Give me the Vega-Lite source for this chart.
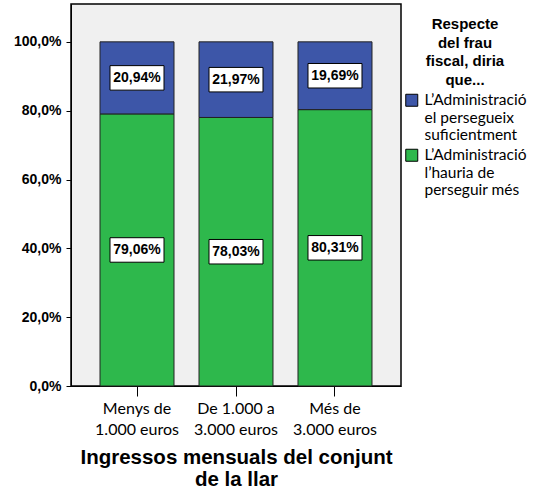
{
  "$schema": "https://vega.github.io/schema/vega-lite/v6.json",
  "width": 330,
  "height": 382,
  "padding": {"left": 13, "top": 4, "right": 0, "bottom": 0},
  "config": {
    "locale": {"number": {"decimal": ",", "thousands": ".", "grouping": [3], "currency": ["", "€"]}},
    "view": {"fill": "#F0F0F0", "stroke": "#000000", "strokeWidth": 1.5},
    "font": "Liberation Sans",
    "style": {"guide-label": {"lineHeight": 17.5}}
  },
  "data": {
    "values": [
      {"cat": "Menys de 1.000 euros", "resp": "L’Administració l’hauria de perseguir més", "ord": 1, "pct": 0.7906},
      {"cat": "Menys de 1.000 euros", "resp": "L’Administració el persegueix suficientment", "ord": 2, "pct": 0.2094},
      {"cat": "De 1.000 a 3.000 euros", "resp": "L’Administració l’hauria de perseguir més", "ord": 1, "pct": 0.7803},
      {"cat": "De 1.000 a 3.000 euros", "resp": "L’Administració el persegueix suficientment", "ord": 2, "pct": 0.2197},
      {"cat": "Més de 3.000 euros", "resp": "L’Administració l’hauria de perseguir més", "ord": 1, "pct": 0.8031},
      {"cat": "Més de 3.000 euros", "resp": "L’Administració el persegueix suficientment", "ord": 2, "pct": 0.1969}
    ]
  },
  "encoding": {
    "x": {
      "field": "cat",
      "type": "nominal",
      "sort": ["Menys de 1.000 euros", "De 1.000 a 3.000 euros", "Més de 3.000 euros"],
      "scale": {"paddingInner": 0.2525, "paddingOuter": 0.293},
      "axis": {
        "title": ["Ingressos mensuals del conjunt", "de la llar"],
        "titleFontSize": 20.5,
        "titleFontWeight": "bold",
        "titleLineHeight": 22,
        "titlePadding": 10,
        "titleColor": "#000000",
        "labelAngle": 0,
        "labelExpr": "indexof(datum.label, 'Menys') >= 0 ? ['Menys de', '1.000 euros'] : indexof(datum.label, 'De 1') >= 0 ? ['De 1.000 a', '3.000 euros'] : ['Més de', '3.000 euros']",
        "labelFont": "Lato",
        "labelFontSize": 16,
        "labelLineHeight": 21,
        "labelPadding": 4,
        "labelColor": "#000000",
        "tickSize": 10,
        "tickColor": "#000000",
        "domainColor": "#000000"
      }
    },
    "y": {
      "field": "pct",
      "type": "quantitative",
      "stack": "zero",
      "scale": {"domain": [0, 1.11], "nice": false},
      "axis": {
        "values": [0, 0.2, 0.4, 0.6, 0.8, 1],
        "format": ".1%",
        "title": null,
        "grid": false,
        "domainColor": "#000000",
        "tickColor": "#000000",
        "tickSize": 5,
        "labelPadding": 5,
        "labelFontSize": 14,
        "labelFontWeight": "bold",
        "labelColor": "#000000"
      }
    },
    "order": {"field": "ord"},
    "detail": {"field": "resp"}
  },
  "layer": [
    {
      "mark": {"type": "bar", "stroke": "#222222", "strokeWidth": 1},
      "encoding": {
        "color": {
          "field": "resp",
          "type": "nominal",
          "scale": {
            "domain": ["L’Administració el persegueix suficientment", "L’Administració l’hauria de perseguir més"],
            "range": ["#3D56A8", "#2EB84C"]
          },
          "legend": {
            "title": ["Respecte", "del frau", "fiscal, diria", "que..."],
            "titleFontSize": 15,
            "titleFontWeight": "bold",
            "titleLineHeight": 18.5,
            "titleAnchor": "middle",
            "titleAlign": "center",
            "titleColor": "#000000",
            "titlePadding": 5,
            "labelExpr": "indexof(datum.label, 'suficient') >= 0 ? ['L’Administració', 'el persegueix', 'suficientment'] : ['L’Administració', 'l’hauria de', 'perseguir més']",
            "labelFont": "Lato",
            "labelFontSize": 15.5,
            "labelColor": "#000000",
            "labelOffset": 5,
            "symbolType": "square",
            "symbolSize": 144,
            "symbolStrokeColor": "#000000",
            "symbolStrokeWidth": 1,
            "symbolOpacity": 1,
            "rowPadding": 2,
            "padding": 13,
            "offset": -10
          }
        }
      }
    },
    {
      "mark": {"type": "point", "shape": "M-1,-0.4537H1V0.4537H-1Z", "size": 2916, "filled": true, "fill": "#FFFFFF", "stroke": "#000000", "strokeWidth": 1, "opacity": 1},
      "encoding": {
        "y": {"field": "pct", "type": "quantitative", "stack": "zero", "bandPosition": 0.5}
      }
    },
    {
      "mark": {"type": "text", "fontSize": 14, "fontWeight": "bold", "baseline": "middle", "align": "center", "color": "#000000"},
      "encoding": {
        "y": {"field": "pct", "type": "quantitative", "stack": "zero", "bandPosition": 0.5},
        "text": {"field": "pct", "type": "quantitative", "format": ".2%"}
      }
    }
  ]
}
